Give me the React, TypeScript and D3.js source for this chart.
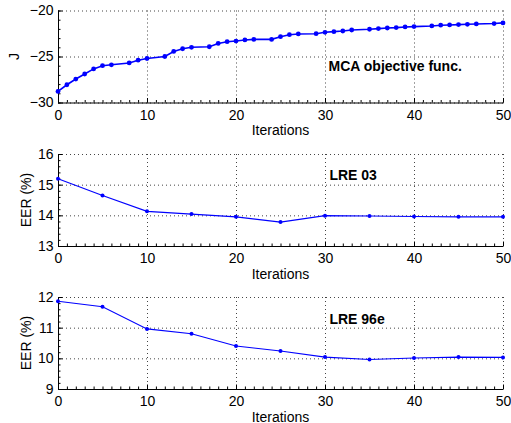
import * as d3 from "d3";
import { useEffect, useRef } from "react";

// MCA objective function
const jIterations = [0, 1, 2, 3, 4, 5, 6, 8, 9, 10, 12, 13, 14, 15, 17, 18, 19, 20, 21, 22, 24, 25, 26, 27, 29, 30, 31, 32, 33, 35, 36, 37, 38, 39, 40, 42, 43, 44, 45, 46, 47, 49, 50];
const jValues = [-28.8, -28.07, -27.45, -26.9, -26.35, -26.0, -25.9, -25.7, -25.4, -25.22, -25.0, -24.45, -24.16, -24.0, -23.94, -23.58, -23.39, -23.32, -23.2, -23.14, -23.14, -22.85, -22.63, -22.55, -22.52, -22.37, -22.3, -22.23, -22.12, -22.04, -21.97, -21.9, -21.86, -21.79, -21.75, -21.68, -21.6, -21.57, -21.53, -21.5, -21.46, -21.42, -21.35];

// EER curves, every 5 iterations
const eerIterations = [0, 5, 10, 15, 20, 25, 30, 35, 40, 45, 50];
const lre03 = [15.19, 14.65, 14.13, 14.04, 13.95, 13.78, 13.99, 13.98, 13.96, 13.95, 13.95];
const lre96e = [11.86, 11.68, 10.96, 10.8, 10.4, 10.24, 10.04, 9.96, 10.01, 10.04, 10.03];

const xTicks = [0, 10, 20, 30, 40, 50];
const jTicks = [-30, -25, -20];
const lre03Ticks = [13, 14, 15, 16];
const lre96eTicks = [9, 10, 11, 12];

const FONT = "'Liberation Sans', Arial, Helvetica, sans-serif";

const App = () => {
    const ref = useRef<SVGSVGElement>(null);

    useEffect(() => {
        const svg = d3.select(ref.current);
        svg.selectAll("*").remove();

        const left = 58;
        const right = 503;
        const panelHeight = 92;

        const panels = [
            { top: 10.5, xs: jIterations, ys: jValues, domain: [-30, -20], ticks: jTicks, minor: 1, ylabel: "J", ylabelX: 18.5, title: "MCA objective func.", titleAt: [30.4, -26.63], lw: 1.6, r: 2.4 },
            { top: 154, xs: eerIterations, ys: lre03, domain: [13, 16], ticks: lre03Ticks, minor: 0.2, ylabel: "EER (%)", ylabelX: 31, title: "LRE 03", titleAt: [30.5, 15.16], lw: 1.1, r: 2 },
            { top: 297, xs: eerIterations, ys: lre96e, domain: [9, 12], ticks: lre96eTicks, minor: 0.2, ylabel: "EER (%)", ylabelX: 31, title: "LRE 96e", titleAt: [30.5, 11.12], lw: 1.1, r: 2 },
        ];

        const x = d3.scaleLinear().domain([0, 50]).range([left, right]);

        panels.forEach((p) => {
            const y = d3.scaleLinear().domain(p.domain).range([p.top + panelHeight, p.top]);
            const g = svg.append("g");

            // dotted grid (also stands in for the top/right box edges)
            g.selectAll(".gx")
                .data(xTicks)
                .enter()
                .append("line")
                .attr("x1", (d) => x(d) + 0.5)
                .attr("x2", (d) => x(d) + 0.5)
                .attr("y1", p.top)
                .attr("y2", p.top + panelHeight)
                .attr("stroke", "#444")
                .attr("stroke-dasharray", "1,3");
            g.selectAll(".gy")
                .data(p.ticks)
                .enter()
                .append("line")
                .attr("x1", left)
                .attr("x2", right)
                .attr("y1", (d) => y(d) + 0.5)
                .attr("y2", (d) => y(d) + 0.5)
                .attr("stroke", "#444")
                .attr("stroke-dasharray", "1,3");

            // minor ticks, pointing inwards
            const xMinor = d3.range(0, 50.01, 1);
            const yMinor = d3.range(p.domain[0], p.domain[1] + 1e-6, p.minor);
            g.append("g")
                .attr("transform", "translate(0," + (p.top + panelHeight) + ")")
                .call(d3.axisBottom(x).tickValues(xMinor).tickSize(-2.5).tickFormat(() => ""))
                .call((s) => s.select(".domain").remove());
            g.append("g")
                .attr("transform", "translate(" + left + ",0)")
                .call(d3.axisLeft(y).tickValues(yMinor).tickSize(-2.5).tickFormat(() => ""))
                .call((s) => s.select(".domain").remove());

            // major axes
            const xa = g.append("g")
                .attr("transform", "translate(0," + (p.top + panelHeight) + ")")
                .call(d3.axisBottom(x).tickValues(xTicks).tickSizeInner(-4.5).tickSizeOuter(0).tickPadding(7.5));
            const ya = g.append("g")
                .attr("transform", "translate(" + left + ",0)")
                .call(d3.axisLeft(y).tickValues(p.ticks).tickSizeInner(-4.5).tickSizeOuter(0).tickPadding(4.5)
                    .tickFormat((d) => String(d).replace("-", "\u2212")));
            [xa, ya].forEach((a) => {
                a.attr("font-family", FONT).attr("font-size", 14);
                a.selectAll("text").attr("fill", "#000");
            });

            // labels
            g.append("text")
                .attr("x", (left + right) / 2)
                .attr("y", p.top + panelHeight + 32.5)
                .attr("text-anchor", "middle")
                .attr("font-family", FONT)
                .attr("font-size", 14)
                .text("Iterations");
            g.append("text")
                .attr("transform", "translate(" + p.ylabelX + "," + (p.top + panelHeight / 2) + ") rotate(-90)")
                .attr("text-anchor", "middle")
                .attr("font-family", FONT)
                .attr("font-size", 14)
                .text(p.ylabel);
            g.append("text")
                .attr("x", x(p.titleAt[0]))
                .attr("y", y(p.titleAt[1]))
                .attr("font-family", FONT)
                .attr("font-size", 14)
                .attr("font-weight", "bold")
                .text(p.title);

            // data line + dot markers
            const pts = p.xs.map((d, i) => [d, p.ys[i]] as [number, number]);
            const line = d3.line<[number, number]>().x((d) => x(d[0])).y((d) => y(d[1]));
            g.append("path")
                .datum(pts)
                .attr("d", line)
                .attr("fill", "none")
                .attr("stroke", "#0000ff")
                .attr("stroke-width", p.lw);
            g.selectAll("circle")
                .data(pts)
                .enter()
                .append("circle")
                .attr("cx", (d) => x(d[0]))
                .attr("cy", (d) => y(d[1]))
                .attr("r", p.r)
                .attr("fill", "#0000ff");
        });
    }, []);

    return (
        <svg
            ref={ref}
            width={511}
            height={423}
            style={{ position: "absolute", left: 0, top: 0, background: "#fff" }}
        />
    );
};

export default App;
